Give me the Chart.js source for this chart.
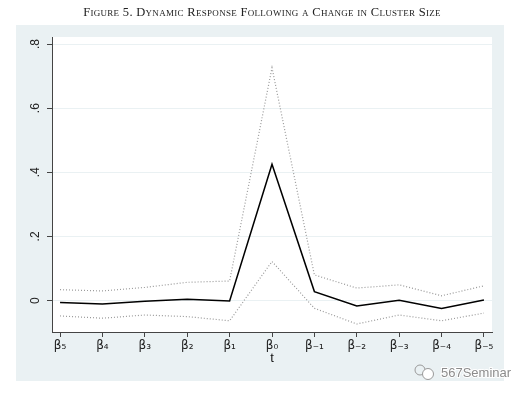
<!DOCTYPE html>
<html>
<head>
<meta charset="utf-8">
<script src="https://cdn.jsdelivr.net/npm/chart.js@4/dist/chart.umd.min.js"></script>
<style>
  body { margin: 0; background: #fff; }
  #titulo {
    position: absolute; left: 0; top: 5px; width: 524px; text-align: center; z-index: 2;
    font-family: "Liberation Serif", "DejaVu Serif", serif; font-size: 12.5px;
    font-variant: small-caps; color: #222; letter-spacing: 0.3px;
  }
  #wrap { position: absolute; left: 0; top: 0; width: 524px; height: 396px; }
</style>
</head>
<body>
<div id="wrap"><canvas id="grafica" width="524" height="396"></canvas></div>
<div id="titulo">Figure 5. Dynamic Response Following a Change in Cluster Size</div>
<script>
// periodos (etiquetas del eje x)
var periodos = ['β₅', 'β₄', 'β₃', 'β₂', 'β₁', 'β₀', 'β₋₁', 'β₋₂', 'β₋₃', 'β₋₄', 'β₋₅'];
// estimacion puntual
var estimacion = [-0.006, -0.011, -0.002, 0.004, -0.001, 0.425, 0.028, -0.017, 0.001, -0.025, 0.002];
// intervalo de confianza
var superior = [0.034, 0.030, 0.041, 0.057, 0.061, 0.726, 0.080, 0.039, 0.049, 0.015, 0.046];
var inferior = [-0.048, -0.055, -0.045, -0.050, -0.063, 0.122, -0.024, -0.073, -0.045, -0.063, -0.039];
// marcas del eje y
var marcasY = [0, 0.2, 0.4, 0.6, 0.8];

function puntos(serie) {
  return serie.map(function (v, i) { return { x: i, y: v }; });
}

var fondo = {
  id: 'fondo',
  beforeDraw: function (chart) {
    var c = chart.ctx, a = chart.chartArea;
    c.save();
    c.fillStyle = '#eaf1f3';
    c.fillRect(16, 25, 488, 356);
    c.fillStyle = '#ffffff';
    c.fillRect(a.left, a.top, a.right - a.left, a.bottom - a.top);
    c.restore();
  },
  afterDraw: function (chart) {
    var c = chart.ctx;
    c.save();
    // marca de agua
    c.strokeStyle = '#9a9a9a';
    c.lineWidth = 1;
    c.beginPath(); c.arc(420, 370, 5, 0, Math.PI * 2); c.stroke();
    c.beginPath(); c.arc(428, 374, 5.5, 0, Math.PI * 2); c.fillStyle = '#fff'; c.fill(); c.stroke();
    c.font = '13px "Liberation Sans", Arial, sans-serif';
    c.fillStyle = '#8c8c8c';
    c.textBaseline = 'middle';
    c.lineWidth = 2; c.strokeStyle = '#ffffff';
    c.strokeText('567Seminar', 441, 373);
    c.fillText('567Seminar', 441, 373);
    c.restore();
  }
};

var ctx = document.getElementById('grafica').getContext('2d');
var grafica = new Chart(ctx, {
  type: 'line',
  data: {
    datasets: [{
      data: puntos(superior),
      borderColor: '#999999',
      borderWidth: 1.2,
      borderDash: [1, 2],
      pointRadius: 0,
      tension: 0
    }, {
      data: puntos(inferior),
      borderColor: '#999999',
      borderWidth: 1.2,
      borderDash: [1, 2],
      pointRadius: 0,
      tension: 0
    }, {
      data: puntos(estimacion),
      borderColor: '#000000',
      borderWidth: 1.5,
      pointRadius: 0,
      tension: 0
    }]
  },
  options: {
    responsive: false,
    animation: false,
    layout: { padding: { left: 16, right: 32, top: 37, bottom: 30 } },
    plugins: { legend: { display: false }, tooltip: { enabled: false } },
    scales: {
      x: {
        type: 'linear',
        min: -0.19,
        max: 10.19,
        afterBuildTicks: function (s) { s.ticks = periodos.map(function (p, i) { return { value: i }; }); },
        afterFit: function (s) { s.height = 34; },
        grid: { display: true, drawOnChartArea: false, tickLength: 5, tickColor: '#444' },
        border: { display: true, color: '#444', width: 1 },
        ticks: {
          autoSkip: false, maxRotation: 0, padding: 2, color: '#222',
          font: { family: '"DejaVu Sans", sans-serif', size: 12 },
          callback: function (v) { return periodos[v]; }
        },
        title: { display: true, text: 't', color: '#111', padding: 0,
                 font: { family: '"Liberation Sans", Arial, sans-serif', size: 13 } }
      },
      y: {
        min: -0.098,
        max: 0.822,
        afterBuildTicks: function (s) { s.ticks = marcasY.map(function (v) { return { value: v }; }); },
        afterFit: function (s) { s.width = 36; },
        grid: { color: '#eaf1f3', lineWidth: 1, tickLength: 5, tickColor: '#444' },
        border: { display: true, color: '#444', width: 1 },
        ticks: {
          minRotation: 90, maxRotation: 90, crossAlign: 'center', padding: 6, color: '#222',
          font: { family: '"Liberation Sans", Arial, sans-serif', size: 12 },
          callback: function (v) { return v === 0 ? '0' : '.' + Math.round(v * 10); }
        }
      }
    }
  },
  plugins: [fondo]
});
</script>
</body>
</html>
